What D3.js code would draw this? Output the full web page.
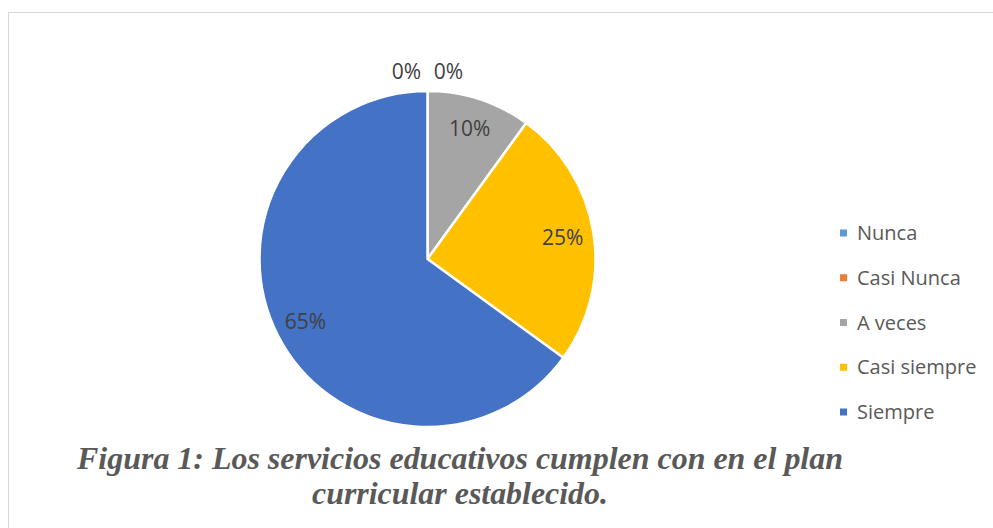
<!DOCTYPE html>
<html>
<head>
<meta charset="utf-8">
<script src="https://cdn.jsdelivr.net/npm/d3@7"></script>
<style>
  html, body { margin: 0; padding: 0; background: #fff; }
  svg { display: block; }
</style>
</head>
<body>
<div id="chart"></div>
<script>
const categories = ['Nunca', 'Casi Nunca', 'A veces', 'Casi siempre', 'Siempre'];
const values = [0, 0, 10, 25, 65];
const sliceColors = ['#5B9BD5', '#ED7D31', '#A5A5A5', '#FFC000', '#4472C4'];
const captionLines = [
  'Figura 1: Los servicios educativos cumplen con en el plan',
  'curricular establecido.'
];

const width = 993;
const height = 528;
const cx = 427.5;
const cy = 259;
const radius = 168;

const svg = d3.select('#chart')
  .append('svg')
    .attr('width', width)
    .attr('height', height);

// chart area border (runs off the right and bottom)
svg.append('rect')
  .attr('x', 8.5)
  .attr('y', 12.5)
  .attr('width', width + 20)
  .attr('height', height + 20)
  .attr('fill', '#fff')
  .attr('stroke', '#d9d9d9')
  .attr('stroke-width', 1);

const data = categories.map((c, i) => ({ name: c, value: values[i] }));

const pie = d3.pie()
  .sort(null)
  .value(d => d.value);

const arcs = pie(data);

const arc = d3.arc()
  .innerRadius(0)
  .outerRadius(radius);

const labelArc = d3.arc()
  .innerRadius(radius * 0.815)
  .outerRadius(radius * 0.815);

const color = d3.scaleOrdinal()
  .domain(categories)
  .range(sliceColors);

const g = svg.append('g')
  .attr('transform', `translate(${cx}, ${cy})`);

g.selectAll('path')
  .data(arcs.filter(d => d.value > 0))
  .enter()
  .append('path')
  .attr('d', arc)
  .attr('fill', d => color(d.data.name))
  .attr('stroke', '#fff')
  .attr('stroke-width', 2.5)
  .attr('stroke-linejoin', 'round');

const fmt = d => Math.round(d.value / d3.sum(values) * 100) + '%';

// labels inside the slices
g.selectAll('text.inside')
  .data(arcs.filter(d => d.value > 0))
  .enter()
  .append('text')
  .attr('class', 'inside')
  .attr('x', d => labelArc.centroid(d)[0])
  .attr('y', d => labelArc.centroid(d)[1])
  .attr('dy', '0.35em')
  .attr('text-anchor', 'middle')
  .style('font-family', "'Open Sans', sans-serif")
  .style('font-size', '21px')
  .style('fill', '#404040')
  .text(fmt);

// zero slices get their labels outside, spread side by side
const zeros = arcs.filter(d => d.value === 0);
const outArc = d3.arc()
  .innerRadius(radius + 19)
  .outerRadius(radius + 19);
const spread = 42;
g.selectAll('text.outside')
  .data(zeros)
  .enter()
  .append('text')
  .attr('class', 'outside')
  .attr('x', (d, i) => outArc.centroid(d)[0] + (i - (zeros.length - 1) / 2) * spread)
  .attr('y', d => outArc.centroid(d)[1])
  .attr('dy', '0.35em')
  .attr('text-anchor', 'middle')
  .style('font-family', "'Open Sans', sans-serif")
  .style('font-size', '21px')
  .style('fill', '#404040')
  .text(fmt);

// legend
const legendY = d3.scalePoint()
  .domain(categories)
  .range([233, 412]);

const legend = svg.append('g')
  .attr('transform', `translate(${840}, 0)`);

const items = legend.selectAll('g')
  .data(categories)
  .enter()
  .append('g')
  .attr('transform', d => `translate(0, ${legendY(d)})`);

items.append('rect')
  .attr('x', 0)
  .attr('y', -3.5)
  .attr('width', 7)
  .attr('height', 7)
  .attr('fill', d => color(d));

items.append('text')
  .attr('x', 17)
  .attr('dy', '0.35em')
  .style('font-family', "'Open Sans', sans-serif")
  .style('font-size', '20px')
  .style('fill', '#595959')
  .text(d => d);

// caption
const captionWidths = [766, 296];
svg.selectAll('text.caption')
  .data(captionLines)
  .enter()
  .append('text')
  .attr('class', 'caption')
  .attr('x', 460)
  .attr('y', (d, i) => 469 + i * 35)
  .attr('text-anchor', 'middle')
  .attr('textLength', (d, i) => captionWidths[i])
  .attr('lengthAdjust', 'spacingAndGlyphs')
  .style('font-family', "'Liberation Serif', 'Times New Roman', serif")
  .style('font-size', '32px')
  .style('font-weight', 'bold')
  .style('font-style', 'italic')
  .style('fill', '#595959')
  .text(d => d);
</script>
</body>
</html>
